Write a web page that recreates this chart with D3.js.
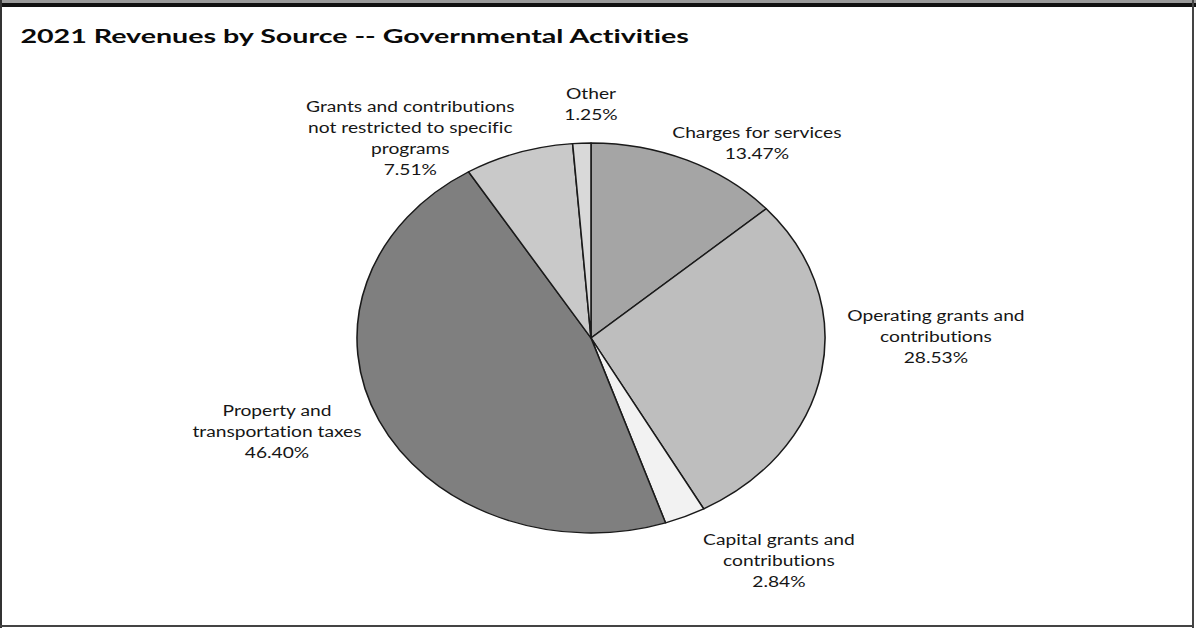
<!DOCTYPE html>
<html>
<head>
<meta charset="utf-8">
<script src="https://cdn.jsdelivr.net/npm/d3@7"></script>
<style>
  html, body { margin: 0; padding: 0; background: #fff; }
  svg { display: block; }
  text { font-variant-ligatures: none; font-feature-settings: "liga" 0, "clig" 0; }
</style>
</head>
<body>
<svg id="chart" width="1196" height="628"></svg>
<script>
// Revenue sources, clockwise from 12 o'clock
const categories = [
  "Charges for services",
  "Operating grants and contributions",
  "Capital grants and contributions",
  "Property and transportation taxes",
  "Grants and contributions not restricted to specific programs",
  "Other"
];
const shares = [13.47, 28.53, 2.84, 46.40, 7.51, 1.25];

// Label text split into lines
const labelLines = [
  ["Charges for services"],
  ["Operating grants and", "contributions"],
  ["Capital grants and", "contributions"],
  ["Property and", "transportation taxes"],
  ["Grants and contributions", "not restricted to specific", "programs"],
  ["Other"]
];

const title = "2021 Revenues by Source -- Governmental Activities";

// Slice fills
const fills = ["#a5a5a5", "#bebebe", "#f2f2f2", "#7f7f7f", "#c9c9c9", "#d9d9d9"];

// Label block centres, in units of the pie radius from the pie centre
const labelSpots = [
  [0.709, -1.003],
  [1.474, -0.010],
  [0.803, 1.141],
  [-1.342, 0.477],
  [-0.772, -1.028],
  [0.0, -1.203]
];

const W = 1196, H = 628;
const stretch = 1.2;           // horizontal stretch of the whole drawing

const svg = d3.select("#chart");

// Frame
svg.append("rect").attr("x", 0).attr("y", 0).attr("width", W).attr("height", 3).attr("fill", "#9a9a9a");
svg.append("rect").attr("x", 0).attr("y", 3).attr("width", W).attr("height", 4).attr("fill", "#111");
svg.append("rect").attr("x", 0).attr("y", 0).attr("width", 2).attr("height", H).attr("fill", "#333");
svg.append("rect").attr("x", 1192).attr("y", 0).attr("width", 2).attr("height", H).attr("fill", "#444");
svg.append("rect").attr("x", 0).attr("y", 625).attr("width", 1194).attr("height", 2).attr("fill", "#444");

const g = svg.append("g").attr("transform", `scale(${stretch},1)`);

// Title
g.append("text")
  .attr("x", 17)
  .attr("y", 43)
  .attr("font-family", "Lato, 'Open Sans', sans-serif")
  .attr("font-weight", "bold")
  .attr("font-size", 19.5)
  .attr("fill", "#0a0a0a")
  .attr("textLength", 557)
  .attr("lengthAdjust", "spacingAndGlyphs")
  .text(title);

// Pie
const cx = 591 / stretch, cy = 338, r = 195;
const data = categories.map((c, i) => ({ cat: c, v: shares[i], fill: fills[i], lines: labelLines[i], spot: labelSpots[i] }));

const pie = d3.pie().sort(null).value(d => d.v);
const arc = d3.arc().innerRadius(0).outerRadius(r);
const arcs = pie(data);

const pg = g.append("g").attr("transform", `translate(${cx},${cy})`);

pg.selectAll("path.slice")
  .data(arcs)
  .join("path")
  .attr("class", "slice")
  .attr("d", arc)
  .attr("fill", d => d.data.fill)
  .attr("stroke", "#1a1a1a")
  .attr("stroke-width", 1.3)
  .attr("stroke-linejoin", "round");

// Labels
const fmt = d3.format(".2f");
const lineH = 21;
const labels = pg.selectAll("text.lbl")
  .data(arcs)
  .join("text")
  .attr("class", "lbl")
  .attr("font-family", "Lato, 'Open Sans', sans-serif")
  .attr("font-size", 16)
  .attr("fill", "#161616")
  .attr("text-anchor", "middle");

labels.each(function (d) {
  const lines = d.data.lines.concat([fmt(d.data.v) + "%"]);
  const x = d.data.spot[0] * r;
  const yc = d.data.spot[1] * r;
  const y0 = yc - (lines.length - 1) * lineH / 2;
  d3.select(this).selectAll("tspan")
    .data(lines)
    .join("tspan")
    .attr("x", x)
    .attr("y", (t, i) => y0 + i * lineH)
    .attr("dy", "0.35em")
    .text(t => t);
});
</script>
</body>
</html>
